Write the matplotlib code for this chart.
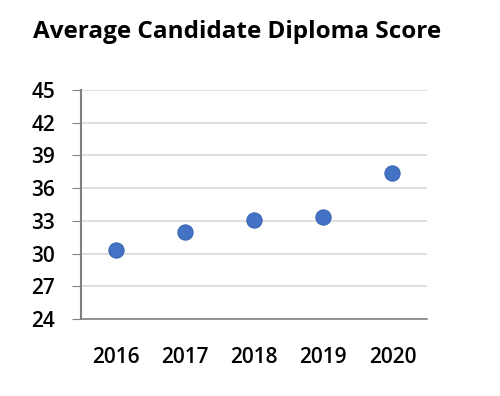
import matplotlib.pyplot as plt

years = ['2016', '2017', '2018', '2019', '2020']
scores = [30.3, 32.0, 33.1, 33.4, 37.4]
yticks = [24, 27, 30, 33, 36, 39, 42, 45]

plt.rcParams['font.family'] = ['Open Sans', 'DejaVu Sans']

fig = plt.figure(figsize=(5, 3.96), dpi=100)
ax = fig.add_axes([0.162, 0.1944, 0.692, 0.5783])

ax.scatter(range(len(years)), scores, s=120, color='#4472C4',
           edgecolors='#3a66b5', linewidths=0.8, zorder=3)

ax.set_xlim(-0.5, len(years) - 0.5)
ax.set_ylim(24, 45)
ax.set_yticks(yticks)
ax.set_xticks(range(len(years)))
ax.set_xticklabels(years)

ax.grid(axis='y', color='#d9d9d9', linewidth=1.2)
ax.set_axisbelow(True)
for s in ['top', 'right']:
    ax.spines[s].set_visible(False)
ax.spines['left'].set_color('#808080')
ax.spines['left'].set_linewidth(1.5)
ax.spines['bottom'].set_color('#808080')
ax.spines['bottom'].set_linewidth(1.2)
ax.tick_params(axis='y', length=6.5, color='#808080', labelsize=15, pad=12)
ax.tick_params(axis='x', length=0, labelsize=15, pad=20)
for lab in ax.get_xticklabels() + ax.get_yticklabels():
    lab.set_fontweight('semibold')

fig.text(0.475, 0.919, 'Average Candidate Diploma Score', ha='center',
         va='center', fontsize=17.5, fontweight='bold')

fig.savefig('out.png', dpi=100)
